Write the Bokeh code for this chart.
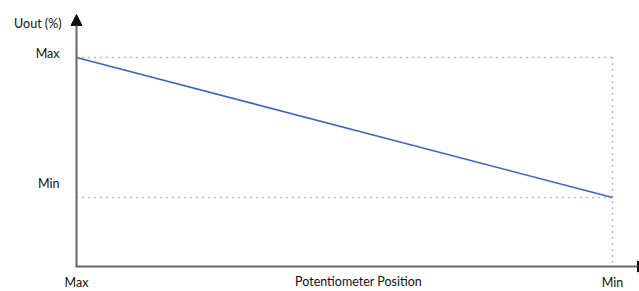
from bokeh.plotting import figure
from bokeh.models import Range1d, Arrow, NormalHead, ColumnDataSource
from bokeh.core.properties import value
from bokeh.embed import file_html
from bokeh.resources import INLINE

# ---- data ----
positions = [0, 100]            # potentiometer position (Max -> Min)
position_labels = ["Max", "Min"]
uout = [100, 0]                 # output voltage (%), Max -> Min
uout_labels = ["Max", "Min"]
x_title = "Potentiometer Position"
y_title = "Uout (%)"

W, H = 639, 291
# layout: canvas px = X0 + SX*x ; canvas py = Y0 - SY*u
X0, SX = 76.0, 5.36
Y0, SY = 197.0, 1.4


def dx(px):
    return (px - X0) / SX


def dy(py):
    return (Y0 - py) / SY


p = figure(width=W, height=H, output_backend="svg", toolbar_location=None,
           x_axis_location=None, y_axis_location=None,
           x_range=Range1d(dx(0), dx(W)), y_range=Range1d(dy(H), dy(0)),
           min_border=0, min_border_left=0, min_border_right=0,
           min_border_top=0, min_border_bottom=0)
p.outline_line_color = None
p.xgrid.visible = False
p.ygrid.visible = False
p.background_fill_color = "white"
p.border_fill_color = "white"

FONT = value("Lato")
FS = "12.5px"
TCOL = "#111111"
y_axis_u = dy(266)   # x-axis level
x_axis_x = 0         # y-axis position

# dotted guide lines
p.segment(x0=[positions[0]] * 2, y0=uout, x1=[positions[1]] * 2, y1=uout,
          line_color="#7a7a7a", line_width=1.4, line_dash="1 5")
p.segment(x0=[positions[1]], y0=[uout[0]], x1=[positions[1]], y1=[y_axis_u],
          line_color="#7a7a7a", line_width=1.4, line_dash="1 5")

# main line
p.line(positions, uout, line_color="#3b64c4", line_width=1.5)

# axes
p.add_layout(Arrow(end=NormalHead(size=11, fill_color="#111111", line_color="#111111"),
                   x_start=x_axis_x, y_start=y_axis_u, x_end=x_axis_x, y_end=dy(14),
                   line_color="#666666", line_width=2))
p.add_layout(Arrow(end=NormalHead(size=11, fill_color="#111111", line_color="#111111"),
                   x_start=dx(75), y_start=y_axis_u, x_end=dx(648), y_end=y_axis_u,
                   line_color="#666666", line_width=2))

# y tick labels
p.text(x=[x_axis_x], y=[uout[0]], text=[uout_labels[0]], x_offset=-17, y_offset=-4,
       text_align="right", text_baseline="middle", text_font=FONT,
       text_font_size=FS, text_color=TCOL)
p.text(x=[x_axis_x], y=[uout[1]], text=[uout_labels[1]], x_offset=-17, y_offset=-14,
       text_align="right", text_baseline="middle", text_font=FONT,
       text_font_size=FS, text_color=TCOL)
# y title
p.text(x=[x_axis_x], y=[dy(23)], text=[y_title], x_offset=-15,
       text_align="right", text_baseline="middle", text_font=FONT,
       text_font_size=FS, text_color=TCOL)

# x tick labels
src = ColumnDataSource(dict(x=positions, y=[y_axis_u] * 2, t=position_labels))
p.text(x="x", y="y", text="t", source=src, y_offset=16,
       text_align="center", text_baseline="middle", text_font=FONT,
       text_font_size=FS, text_color=TCOL)
# x title
p.text(x=[(positions[0] + positions[1]) / 2], y=[y_axis_u], text=[x_title],
       x_offset=14, y_offset=15,
       text_align="center", text_baseline="middle", text_font=FONT,
       text_font_size=FS, text_color=TCOL)

open("out.html", "w").write(file_html(p, INLINE))
